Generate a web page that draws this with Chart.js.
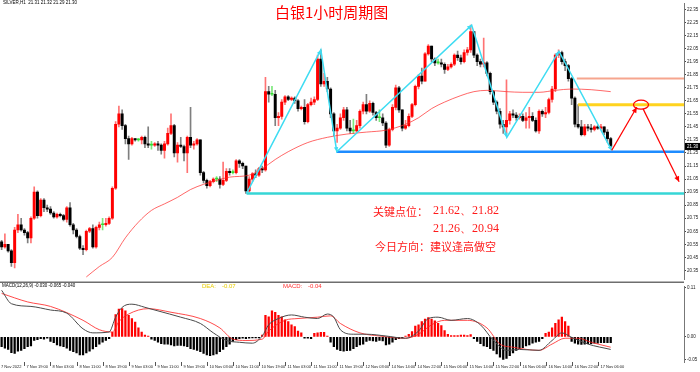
<!DOCTYPE html>
<html>
<head>
<meta charset="utf-8">
<script src="https://cdn.jsdelivr.net/npm/chart.js@4.4.1/dist/chart.umd.min.js"></script>
<style>
html, body { margin: 0; padding: 0; background: #fff; }
#wrap { position: relative; width: 700px; height: 372px; overflow: hidden; }
#priceChart { position: absolute; left: 0; top: 0; }
#macdChart { position: absolute; left: 0; top: 283px; }
</style>
</head>
<body>
<div id="wrap">
<canvas id="priceChart" width="700" height="283"></canvas>
<canvas id="macdChart" width="700" height="89"></canvas>
</div>
<script>
// 白银 1小时K线 + MACD

// 188根K线, 右侧留空白
const slotCount = 210;

const opens = [20.57,20.53,20.55,20.50,20.41,20.66,20.70,20.66,20.64,20.60,
 20.75,20.95,20.77,20.89,20.83,20.82,20.79,20.76,20.78,20.77,
 20.74,20.83,20.70,20.66,20.61,20.52,20.51,20.65,20.67,20.53,
 20.68,20.70,20.70,20.71,20.75,20.98,21.47,21.55,21.46,21.36,
 21.32,21.36,21.35,21.35,21.37,21.32,21.31,21.31,21.32,21.31,
 21.27,21.32,21.40,21.46,21.25,21.31,21.30,21.25,21.37,21.31,
 21.32,21.35,21.10,21.04,21.00,21.03,21.05,21.05,21.01,21.04,
 21.11,21.10,21.10,21.19,21.17,21.15,20.96,21.05,21.09,21.08,
 21.13,21.12,21.72,21.70,21.70,21.52,21.53,21.64,21.68,21.66,
 21.67,21.65,21.59,21.60,21.49,21.62,21.64,21.66,21.97,21.78,
 21.80,21.74,21.55,21.42,21.44,21.52,21.58,21.44,21.42,21.42,
 21.46,21.57,21.62,21.57,21.63,21.56,21.52,21.52,21.48,21.31,
 21.43,21.60,21.75,21.58,21.44,21.46,21.53,21.62,21.76,21.84,
 21.80,22.01,22.07,21.97,21.94,21.94,21.93,21.89,21.91,21.93,
 22.00,21.98,21.95,22.02,22.04,22.18,22.00,21.95,21.93,21.94,
 21.86,21.72,21.64,21.57,21.47,21.45,21.50,21.55,21.54,21.52,
 21.53,21.50,21.52,21.53,21.50,21.42,21.57,21.55,21.56,21.66,
 21.74,22.00,22.02,21.95,21.92,21.82,21.67,21.47,21.45,21.39,
 21.45,21.44,21.43,21.45,21.44,21.45,21.41,21.36];

const highs = [20.58,20.63,20.55,20.51,20.68,20.78,20.75,20.67,20.65,20.76,
 20.99,20.96,20.90,20.90,20.85,20.84,20.80,20.79,20.79,20.78,
 20.84,20.87,20.71,20.67,20.62,20.54,20.66,20.68,20.70,20.69,
 20.72,20.75,20.75,20.76,20.99,21.49,21.61,21.58,21.47,21.38,
 21.37,21.36,21.36,21.38,21.38,21.45,21.34,21.33,21.34,21.32,
 21.34,21.44,21.55,21.47,21.33,21.37,21.31,21.38,21.60,21.34,
 21.36,21.35,21.11,21.05,21.04,21.06,21.07,21.07,21.18,21.13,
 21.13,21.12,21.20,21.20,21.18,21.15,21.07,21.10,21.12,21.14,
 21.15,21.83,21.76,21.76,21.73,21.56,21.66,21.69,21.69,21.68,
 21.68,21.66,21.61,21.66,21.63,21.67,21.68,22.00,22.04,21.86,
 21.83,21.75,21.56,21.47,21.55,21.60,21.60,21.50,21.51,21.50,
 21.58,21.64,21.70,21.65,21.64,21.57,21.58,21.55,21.49,21.44,
 21.62,21.77,21.76,21.58,21.50,21.55,21.63,21.77,21.85,21.90,
 22.02,22.08,22.07,21.98,21.97,21.97,21.94,21.93,21.94,22.01,
 22.03,22.00,22.04,22.06,22.23,22.18,22.01,21.97,22.13,21.95,
 21.87,21.73,21.65,21.59,21.50,21.81,21.57,21.58,21.56,21.55,
 21.55,21.56,21.60,21.56,21.52,21.58,21.58,21.60,21.67,21.76,
 22.01,22.04,22.03,21.97,21.93,21.83,21.68,21.62,21.50,21.47,
 21.47,21.47,21.46,21.46,21.47,21.45,21.43,21.37];

const lows = [20.51,20.52,20.49,20.38,20.37,20.64,20.65,20.62,20.56,20.56,
 20.74,20.75,20.76,20.80,20.80,20.78,20.75,20.75,20.76,20.73,
 20.72,20.69,20.63,20.60,20.51,20.47,20.50,20.64,20.52,20.52,
 20.66,20.66,20.69,20.70,20.74,20.97,21.45,21.43,21.32,21.20,
 21.31,21.34,21.34,21.32,21.29,21.29,21.28,21.30,21.27,21.24,
 21.21,21.31,21.39,21.22,21.18,21.29,21.19,21.10,21.29,21.28,
 21.31,21.08,21.02,20.98,20.99,21.02,21.03,20.98,21.00,21.03,
 21.08,21.09,21.09,21.14,21.13,20.94,20.95,21.03,21.06,21.07,
 21.10,21.11,21.64,21.69,21.46,21.46,21.51,21.62,21.65,21.65,
 21.63,21.57,21.58,21.47,21.48,21.61,21.62,21.65,21.76,21.76,
 21.72,21.52,21.38,21.33,21.43,21.50,21.42,21.40,21.40,21.41,
 21.44,21.55,21.55,21.56,21.54,21.50,21.49,21.46,21.29,21.30,
 21.42,21.58,21.56,21.42,21.43,21.45,21.52,21.61,21.74,21.78,
 21.80,22.00,21.95,21.92,21.93,21.91,21.86,21.88,21.90,21.92,
 21.96,21.93,21.94,22.00,22.02,21.98,21.92,21.91,21.91,21.84,
 21.70,21.62,21.55,21.44,21.40,21.38,21.47,21.52,21.50,21.51,
 21.49,21.44,21.44,21.49,21.41,21.40,21.53,21.52,21.55,21.64,
 21.72,21.98,21.93,21.88,21.80,21.62,21.45,21.44,21.38,21.38,
 21.42,21.41,21.42,21.43,21.43,21.39,21.33,21.29];

const closes = [20.53,20.55,20.50,20.41,20.66,20.70,20.66,20.64,20.60,20.75,
 20.95,20.77,20.89,20.83,20.82,20.79,20.76,20.78,20.77,20.74,
 20.83,20.70,20.66,20.61,20.52,20.51,20.65,20.67,20.53,20.68,
 20.70,20.70,20.71,20.75,20.98,21.47,21.55,21.46,21.36,21.32,
 21.36,21.35,21.35,21.37,21.32,21.31,21.31,21.32,21.31,21.27,
 21.32,21.40,21.46,21.25,21.31,21.30,21.25,21.37,21.31,21.32,
 21.35,21.10,21.04,21.00,21.03,21.05,21.05,21.01,21.04,21.11,
 21.10,21.10,21.19,21.17,21.15,20.96,21.05,21.09,21.08,21.13,
 21.12,21.72,21.70,21.70,21.52,21.53,21.64,21.68,21.66,21.67,
 21.65,21.59,21.60,21.49,21.62,21.64,21.66,21.97,21.78,21.80,
 21.74,21.55,21.42,21.44,21.52,21.58,21.44,21.42,21.42,21.46,
 21.57,21.62,21.57,21.63,21.56,21.52,21.52,21.48,21.31,21.43,
 21.60,21.75,21.58,21.44,21.46,21.53,21.62,21.76,21.84,21.80,
 22.01,22.07,21.97,21.94,21.94,21.93,21.89,21.91,21.93,22.00,
 21.98,21.95,22.02,22.04,22.18,22.00,21.95,21.93,21.94,21.86,
 21.72,21.64,21.57,21.47,21.45,21.50,21.55,21.54,21.52,21.53,
 21.50,21.52,21.53,21.50,21.42,21.57,21.55,21.56,21.66,21.74,
 22.00,22.02,21.95,21.92,21.82,21.67,21.47,21.45,21.39,21.45,
 21.44,21.43,21.45,21.44,21.45,21.41,21.36,21.30];

// 均线 (读图取点)
const maIdx = [26,30,34,38,42,46,50,54,58,62,66,70,76,80,84,88,94,100,106,112,118,124,128,132,136,141,145,149,155,160,165,170,175,181,187];
const maVal = [20.30,20.38,20.45,20.60,20.72,20.81,20.86,20.91,20.97,21.01,21.04,21.065,21.08,21.13,21.20,21.26,21.33,21.37,21.395,21.41,21.425,21.47,21.52,21.59,21.64,21.69,21.72,21.73,21.72,21.715,21.715,21.73,21.74,21.735,21.72];

// MACD 柱
const histValues = [-.022,-.025,-.028,-.035,-.037,-.032,-.030,-.026,-.022,-.020,
 -.008,-.006,-.004,-.005,-.003,-.010,-.013,-.018,-.020,-.022,
 -.025,-.030,-.033,-.036,-.040,-.040,-.036,-.032,-.027,-.022,
 -.016,-.012,-.008,-.004,.010,.050,.062,.063,.058,.048,
 .041,.033,.020,.011,.004,.002,-.005,-.008,-.012,-.015,
 -.016,-.016,-.018,-.020,-.019,-.019,-.020,-.022,-.026,-.028,
 -.030,-.033,-.037,-.040,-.042,-.040,-.038,-.033,-.028,-.022,
 -.016,-.010,-.006,-.004,-.003,-.004,-.003,-.002,-.002,-.002,
 .004,.048,.045,.058,.055,.048,.045,.038,.034,.027,
 .023,.013,.009,-.003,-.003,-.004,.008,.009,.010,.010,
 .002,-.012,-.022,-.028,-.031,-.032,-.031,-.030,-.026,-.022,
 -.018,-.016,-.010,-.008,-.009,-.010,-.008,-.009,-.018,-.016,
 -.012,-.006,-.004,-.002,.002,.006,.012,.024,.027,.034,
 .040,.043,.040,.036,.030,.025,.014,.006,.003,.003,
 .003,.004,.004,.003,.005,-.004,-.010,-.015,-.020,-.022,
 -.026,-.030,-.038,-.045,-.050,-.048,-.042,-.036,-.030,-.026,
 -.024,-.020,-.018,-.014,-.012,-.010,-.004,.008,.011,.020,
 .030,.038,.044,.034,.024,-.010,-.014,-.016,-.017,-.016,
 -.015,-.015,-.014,-.014,-.013,-.013,-.013,-.013];

// MACD 两条线 (黑 / 红)
const difIdx = [0,3,9,15,20,25,28,33,35,37,40,44,48,55,61,65,69,73,77,80,82,85,89,93,97,100,102,104,108,112,118,124,128,131,134,138,143,147,151,155,159,165,169,172,175,180,187];
const difVal = [.104,.074,.068,.060,.053,.018,.009,.011,.044,.066,.073,.066,.058,.044,.030,.009,-.008,-.012,-.014,.002,.027,.041,.049,.044,.041,.051,.044,.016,.006,.006,.002,-.003,.013,.041,.044,.037,.041,.027,-.008,-.030,-.028,-.030,-.008,.009,-.001,-.016,-.028];
const deaIdx = [0,8,15,25,30,34,36,39,45,52,61,67,71,75,80,82,87,91,97,101,104,110,116,124,128,132,136,143,149,153,157,165,169,173,177,181,187];
const deaVal = [.097,.078,.068,.037,.016,.011,.034,.051,.063,.055,.041,.020,-.005,-.008,-.005,.013,.037,.041,.044,.047,.030,.009,.002,-.003,.006,.027,.037,.037,.020,-.016,-.023,-.030,-.016,-.003,-.003,-.012,-.023];

// 坐标轴刻度
const priceTicks = [20.35,20.45,20.55,20.65,20.75,20.85,20.95,21.05,21.15,21.25,21.35,21.45,21.55,21.65,21.75,21.85,21.95,22.05,22.15,22.25,22.35];
const macdTicks = [0.11, 0, -0.05];
const timeIdx = [7,15,23,31,39,47,55,63,71,79,87,95,103,111,119,127,135,143,151,159,167,175,183];
const timeLabels = ['7 Nov 19:00','8 Nov 03:00','8 Nov 11:00','8 Nov 19:00','9 Nov 03:00','9 Nov 11:00','9 Nov 19:00','10 Nov 03:00','10 Nov 11:00','10 Nov 19:00','11 Nov 03:00','11 Nov 11:00','11 Nov 19:00','12 Nov 03:00','14 Nov 14:00','14 Nov 22:00','15 Nov 06:00','15 Nov 14:00','15 Nov 22:00','16 Nov 06:00','16 Nov 14:00','16 Nov 22:00','17 Nov 06:00'];

// 画线标注 (K线序号, 价格)
const zigzag = [[75.2,20.94],[98,22.04],[102.9,21.26],[144.3,22.23],[155.1,21.37],[171.1,22.03],[187.3,21.27]];
const levelPrices = [21.82, 21.62, 21.26, 20.94];
const levelStarts = [176.6, 177, 102.9, 75.2];
const levelColors = ['#f6a58e', '#ffd31f', '#1e8cff', '#36d6d6'];
const levelWidths = [2, 3, 2.5, 2.5];
const arrowUp = [[187.3,21.27],[195,21.60]];
const arrowDown = [[196.9,21.59],[208,21.03]];
const circleAt = [196.3, 21.62];

const upColor = '#ff0000';
const downColor = '#000000';
const flatColor = '#33dd33';
const cjk = '"Noto Sans CJK SC", sans-serif';
const tiny = '"Liberation Sans", Arial, sans-serif';

function candleColor(i) {
    if (Math.abs(closes[i] - opens[i]) < 0.004) return flatColor;
    return closes[i] > opens[i] ? upColor : downColor;
}
function wickColor(i) {
    if (Math.abs(closes[i] - opens[i]) < 0.004) return '#7be87b';
    return closes[i] > opens[i] ? 'rgba(255,0,0,0.55)' : 'rgba(0,0,0,0.5)';
}

function arrowHead(ctx, x0, y0, x1, y1, size) {
    let a = Math.atan2(y1 - y0, x1 - x0);
    ctx.beginPath();
    ctx.moveTo(x1, y1);
    ctx.lineTo(x1 - size * Math.cos(a - 0.45), y1 - size * Math.sin(a - 0.45));
    ctx.lineTo(x1 - size * Math.cos(a + 0.45), y1 - size * Math.sin(a + 0.45));
    ctx.closePath();
    ctx.fill();
}

// 主图上的画线和文字
const markPlugin = {
    id: 'marks',
    afterDatasetsDraw(chart) {
        let ctx = chart.ctx;
        let area = chart.chartArea;
        let x = chart.scales.x, y = chart.scales.y;
        let px = i => x.getPixelForValue(i);
        let py = p => y.getPixelForValue(p);
        ctx.save();

        // 水平线
        levelPrices.forEach((p, k) => {
            ctx.strokeStyle = levelColors[k];
            ctx.lineWidth = levelWidths[k];
            ctx.beginPath();
            ctx.moveTo(px(levelStarts[k]), py(p));
            ctx.lineTo(area.right, py(p));
            ctx.stroke();
        });

        // 折线
        ctx.strokeStyle = '#3edcf2';
        ctx.fillStyle = '#3edcf2';
        ctx.lineWidth = 1.5;
        ctx.beginPath();
        zigzag.forEach((pt, k) => {
            if (k === 0) ctx.moveTo(px(pt[0]), py(pt[1]));
            else ctx.lineTo(px(pt[0]), py(pt[1]));
        });
        ctx.stroke();
        for (let k = 1; k < zigzag.length; k++) {
            arrowHead(ctx, px(zigzag[k-1][0]), py(zigzag[k-1][1]), px(zigzag[k][0]), py(zigzag[k][1]), 5);
        }

        // 红色箭头
        ctx.strokeStyle = '#ff0000';
        ctx.fillStyle = '#ff0000';
        ctx.lineWidth = 1.2;
        [arrowUp, arrowDown].forEach(a => {
            let x0 = px(a[0][0]), y0 = py(a[0][1]), x1 = px(a[1][0]), y1 = py(a[1][1]);
            ctx.beginPath();
            ctx.moveTo(x0, y0);
            ctx.lineTo(x1, y1);
            ctx.stroke();
            arrowHead(ctx, x0, y0, x1, y1, 6);
        });
        ctx.beginPath();
        ctx.ellipse(px(circleAt[0]), py(circleAt[1]), 7.5, 4.5, 0, 0, Math.PI * 2);
        ctx.stroke();

        // 标题和说明文字
        ctx.fillStyle = '#ff0000';
        ctx.textBaseline = 'middle';
        ctx.font = '15px ' + cjk;
        ctx.fillText('白银1小时周期图', 275, 12);
        ctx.font = '11px ' + cjk;
        ctx.fillStyle = '#ff1a1a';
        ctx.fillText('关键点位：', 373, 212);
        ctx.font = '12px "Liberation Serif", serif';
        ctx.fillText('21.62、21.82', 433, 211);
        ctx.fillText('21.26、20.94', 433, 229);
        ctx.font = '11px ' + cjk;
        ctx.fillText('今日方向：建议逢高做空', 375, 247);

        // 左上角品种信息
        ctx.fillStyle = '#000';
        ctx.font = '4.5px ' + tiny;
        ctx.fillText('SILVER,H1  21.31 21.32 21.29 21.30', 3, 3);

        // 当前价格框
        let last = closes[closes.length - 1];
        ctx.fillStyle = '#000';
        ctx.fillRect(area.right + 1, py(last) - 3.5, 15, 7);
        ctx.fillStyle = '#fff';
        ctx.fillText(last.toFixed(2), area.right + 3, py(last));

        // 分隔线
        ctx.strokeStyle = '#6e6e6e';
        ctx.lineWidth = 1.5;
        ctx.beginPath();
        ctx.moveTo(0, 282.3);
        ctx.lineTo(area.right, 282.3);
        ctx.stroke();
        ctx.restore();
    }
};

// 副图文字和时间轴
const macdTextPlugin = {
    id: 'macdText',
    afterDraw(chart) {
        let ctx = chart.ctx;
        let area = chart.chartArea;
        let x = chart.scales.x;
        ctx.save();
        ctx.textBaseline = 'middle';
        ctx.font = '4.5px ' + tiny;
        ctx.fillStyle = '#000';
        ctx.fillText('MACD(12,26,9) -0.030 -0.065 -0.040', 2, 3);
        ctx.font = '6px ' + tiny;
        ctx.fillStyle = '#e8cc00';
        ctx.fillText('DEA:', 202, 3);
        ctx.fillText('-0.07', 222, 3);
        ctx.fillStyle = '#ff3030';
        ctx.fillText('MACD:', 283, 3);
        ctx.fillText('-0.04', 308, 3);

        // 时间刻度
        ctx.font = '4px ' + tiny;
        ctx.fillStyle = '#222';
        ctx.strokeStyle = '#555';
        ctx.lineWidth = 1;
        ctx.fillText('7 Nov 2022', 1, area.bottom + 5);
        timeIdx.forEach((idx, k) => {
            let tx = Math.round(x.getPixelForValue(idx)) + 0.5;
            ctx.beginPath();
            ctx.moveTo(tx, area.bottom);
            ctx.lineTo(tx, area.bottom + 4);
            ctx.stroke();
            ctx.fillText(timeLabels[k], tx + 2, area.bottom + 5);
        });
        ctx.restore();
    }
};

const barIndex = closes.map((c, i) => i);

new Chart(document.getElementById('priceChart'), {
    type: 'bar',
    data: {
        datasets: [{
            type: 'line',
            data: maIdx.map((i, k) => ({ x: i, y: maVal[k] })),
            borderColor: 'rgba(255,40,40,0.7)',
            borderWidth: 1,
            pointRadius: 0,
            cubicInterpolationMode: 'monotone',
            order: 0
        }, {
            data: barIndex.map(i => ({ x: i, y: [opens[i], closes[i]] })),
            backgroundColor: barIndex.map(candleColor),
            barThickness: 2.3,
            minBarLength: 1,
            grouped: false,
            order: 1
        }, {
            data: barIndex.map(i => ({ x: i, y: [lows[i], highs[i]] })),
            backgroundColor: barIndex.map(wickColor),
            barThickness: 1,
            grouped: false,
            order: 2
        }]
    },
    options: {
        responsive: false,
        animation: false,
        layout: { padding: 0 },
        plugins: { legend: { display: false }, tooltip: { enabled: false } },
        scales: {
            x: { type: 'linear', min: -0.5, max: slotCount - 0.5, offset: false, display: false },
            y: {
                position: 'right',
                min: 20.282,
                max: 22.394,
                afterFit: s => { s.width = 16; },
                afterBuildTicks: s => { s.ticks = priceTicks.map(v => ({ value: v })); },
                grid: { drawOnChartArea: false, tickLength: 2, color: '#444' },
                border: { color: '#777' },
                ticks: { font: { size: 4.5, family: tiny }, color: '#222', padding: 1, callback: v => v.toFixed(2) }
            }
        }
    },
    plugins: [markPlugin]
});

new Chart(document.getElementById('macdChart'), {
    type: 'bar',
    data: {
        datasets: [{
            type: 'line',
            data: difIdx.map((i, k) => ({ x: i, y: difVal[k] })),
            borderColor: '#4a4a4a',
            borderWidth: 1,
            pointRadius: 0,
            cubicInterpolationMode: 'monotone',
            order: 0
        }, {
            type: 'line',
            data: deaIdx.map((i, k) => ({ x: i, y: deaVal[k] })),
            borderColor: 'rgba(255,30,30,0.8)',
            borderWidth: 1,
            pointRadius: 0,
            cubicInterpolationMode: 'monotone',
            order: 1
        }, {
            data: histValues.map((v, i) => ({ x: i, y: v })),
            backgroundColor: histValues.map(v => v > 0 ? '#ff0000' : '#000000'),
            barThickness: 1.6,
            grouped: false,
            order: 2
        }]
    },
    options: {
        responsive: false,
        animation: false,
        layout: { padding: { top: 0, bottom: 10, left: 0, right: 0 } },
        plugins: { legend: { display: false }, tooltip: { enabled: false } },
        scales: {
            x: { type: 'linear', min: -0.5, max: slotCount - 0.5, offset: false, display: false },
            y: {
                position: 'right',
                min: -0.056,
                max: 0.112,
                afterFit: s => { s.width = 16; },
                afterBuildTicks: s => { s.ticks = macdTicks.map(v => ({ value: v })); },
                grid: { drawOnChartArea: false, tickLength: 2, color: '#444' },
                border: { color: '#777' },
                ticks: { font: { size: 4.5, family: tiny }, color: '#222', padding: 1, callback: v => v.toFixed(2) }
            }
        }
    },
    plugins: [macdTextPlugin]
});
</script>
</body>
</html>
